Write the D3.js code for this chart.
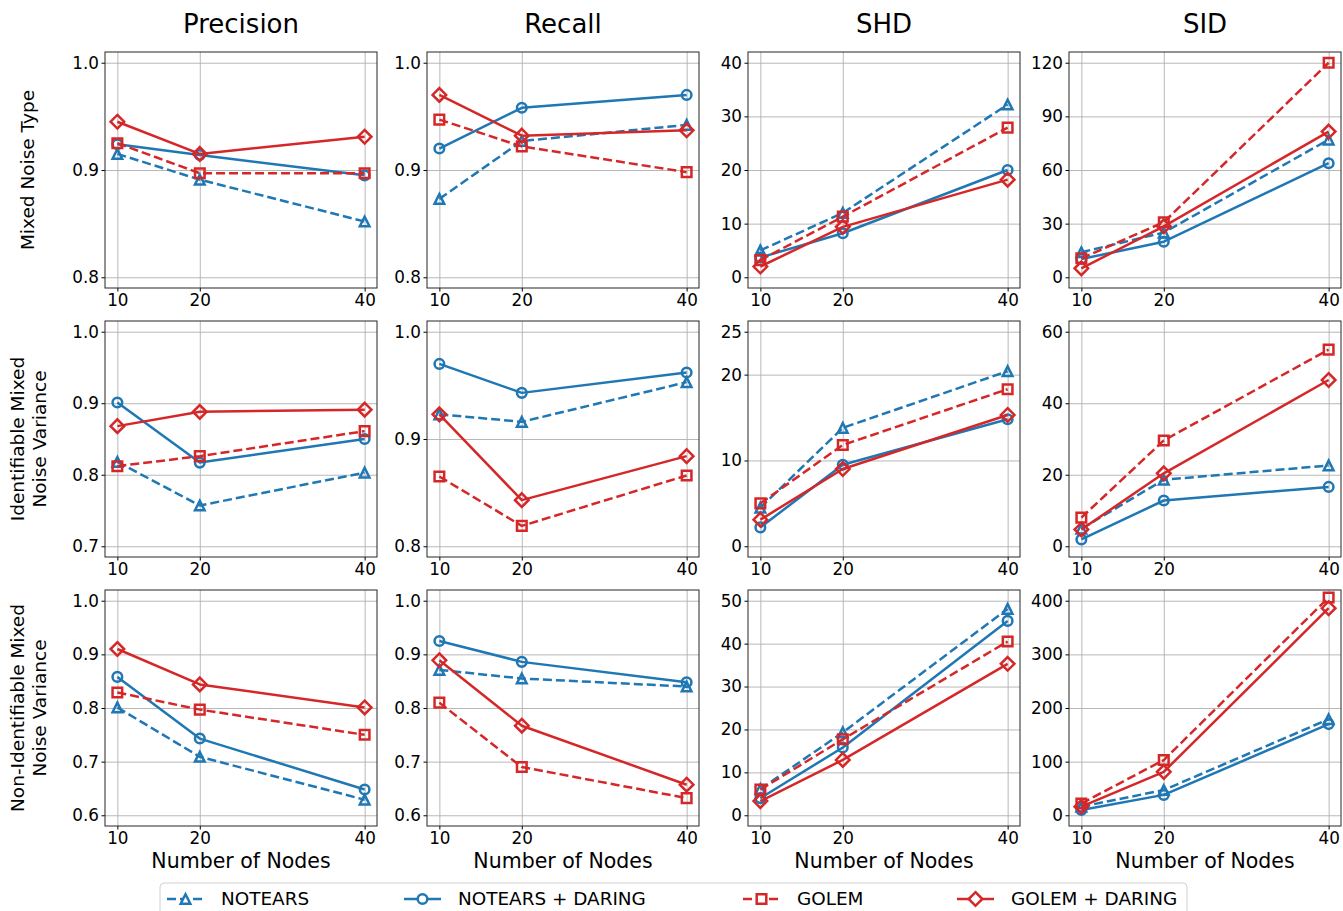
<!DOCTYPE html>
<html><head><meta charset="utf-8">
<script src="https://cdn.jsdelivr.net/npm/d3@7"></script>
<style>
body{margin:0;background:#fff}
svg{display:block}
text{font-family:"DejaVu Sans",sans-serif;fill:#000}
</style>
</head><body>
<svg id="c" width="1343" height="911"></svg>
<script>
// ---------------- DATA ----------------
const nodes = [10, 20, 40];
const metrics = ["Precision", "Recall", "SHD", "SID"];
const settings = [["Mixed Noise Type"], ["Identifiable Mixed", "Noise Variance"], ["Non-Identifiable Mixed", "Noise Variance"]];
const methods = ["NOTEARS", "NOTEARS + DARING", "GOLEM", "GOLEM + DARING"];

// values[row][metric][node]
const notears = [
  [[0.915, 0.891, 0.852], [0.873, 0.927, 0.942], [5.0, 12.0, 32.2], [14, 25, 77]],
  [[0.818, 0.757, 0.803], [0.923, 0.916, 0.953], [4.5, 13.8, 20.4], [4.9, 18.6, 22.6]],
  [[0.801, 0.709, 0.629], [0.871, 0.855, 0.840], [6.1, 19.3, 48.1], [16, 47, 179]]
];
const notearsDaring = [
  [[0.924, 0.914, 0.895], [0.920, 0.958, 0.970], [3.7, 8.2, 20.0], [10.2, 19.9, 63.8]],
  [[0.901, 0.817, 0.850], [0.970, 0.943, 0.962], [2.2, 9.5, 14.8], [1.9, 12.8, 16.6]],
  [[0.858, 0.743, 0.648], [0.925, 0.886, 0.848], [4.0, 15.8, 45.3], [10, 38, 170]]
];
const golem = [
  [[0.925, 0.897, 0.897], [0.947, 0.922, 0.898], [3.2, 11.3, 27.9], [10.6, 30.8, 120]],
  [[0.812, 0.826, 0.861], [0.865, 0.819, 0.866], [5.0, 11.8, 18.3], [8.0, 29.6, 55.0]],
  [[0.829, 0.797, 0.750], [0.810, 0.690, 0.632], [6.0, 17.7, 40.5], [22, 103, 406]]
];
const golemDaring = [
  [[0.945, 0.915, 0.931], [0.970, 0.932, 0.937], [2.0, 9.4, 18.2], [5.0, 28.5, 81.5]],
  [[0.868, 0.888, 0.891], [0.923, 0.843, 0.884], [3.1, 9.0, 15.3], [4.7, 20.4, 46.5]],
  [[0.910, 0.844, 0.801], [0.889, 0.767, 0.657], [3.3, 12.9, 35.3], [16, 81, 386]]
];
const xTicks = [10, 20, 40];
const yTicks = [
  [[0.8, 0.9, 1.0], [0.8, 0.9, 1.0], [0, 10, 20, 30, 40], [0, 30, 60, 90, 120]],
  [[0.7, 0.8, 0.9, 1.0], [0.8, 0.9, 1.0], [0, 10, 20, 25], [0, 20, 40, 60]],
  [[0.6, 0.7, 0.8, 0.9, 1.0], [0.6, 0.7, 0.8, 0.9, 1.0], [0, 10, 20, 30, 40, 50], [0, 100, 200, 300, 400]]
];
const xLabel = "Number of Nodes";

// ---------------- STYLE / LAYOUT ----------------
const series = [notears, notearsDaring, golem, golemDaring];
const BLUE = "#1f77b4", RED = "#d62728";
const styles = [
  {color: BLUE, dash: "9,4", marker: "triangle"},
  {color: BLUE, dash: null, marker: "circle"},
  {color: RED, dash: "9,4", marker: "square"},
  {color: RED, dash: null, marker: "diamond"}
];
const colLeft = [105, 427, 748, 1069], panelW = 272;
const rowTop = [52, 321, 590], panelH = 236;
const legendTextX = [221, 458, 797, 1011];
const MS = 9.6; // marker size

const svg = d3.select("#c");

function markerPath(type) {
  const h = MS / 2;
  if (type === "circle") return `M${h},0A${h},${h} 0 1,1 ${-h},0A${h},${h} 0 1,1 ${h},0Z`;
  if (type === "square") return `M${-h},${-h}H${h}V${h}H${-h}Z`;
  if (type === "diamond") { const d = h * Math.SQRT2; return `M0,${-d}L${d},0L0,${d}L${-d},0Z`; }
  return `M0,${-h}L${h},${h}L${-h},${h}Z`;
}

metrics.forEach((m, c) => {
  svg.append("text").attr("x", colLeft[c] + panelW / 2).attr("y", 33)
    .attr("text-anchor", "middle").style("font-size", "26px").text(m);
});

settings.forEach((lines, r) => {
  const cy = rowTop[r] + panelH / 2;
  const g = svg.append("g").attr("transform", `translate(0,${cy}) rotate(-90)`);
  const n = lines.length;
  lines.forEach((t, i) => {
    const xc = n === 1 ? 28 : (i === 0 ? 18 : 40);
    g.append("text").attr("x", 0).attr("y", xc).attr("dy", "0.35em")
      .attr("text-anchor", "middle").style("font-size", "18.5px").text(t);
  });
});

for (let r = 0; r < 3; r++) {
  for (let c = 0; c < 4; c++) {
    const L = colLeft[c], T = rowTop[r];
    const g = svg.append("g").attr("transform", `translate(${L},${T})`);
    const x = d3.scaleLinear().domain([8.5, 41.5]).range([0, panelW]);
    const yt = yTicks[r][c];
    const lo = d3.min(yt), hi = d3.max(yt), pad = (hi - lo) * 0.05;
    const y = d3.scaleLinear().domain([lo - pad, hi + pad]).range([panelH, 0]);
    const fmt = c < 2 ? d3.format(".1f") : d3.format("d");

    // grid
    g.append("g").attr("class", "grid")
      .call(d3.axisLeft(y).tickValues(yt).tickSize(-panelW).tickFormat(""))
      .call(s => s.select(".domain").remove())
      .call(s => s.selectAll("line").attr("stroke", "#b0b0b0").attr("stroke-width", 0.9));
    g.append("g").attr("class", "grid").attr("transform", `translate(0,${panelH})`)
      .call(d3.axisBottom(x).tickValues(xTicks).tickSize(-panelH).tickFormat(""))
      .call(s => s.select(".domain").remove())
      .call(s => s.selectAll("line").attr("stroke", "#b0b0b0").attr("stroke-width", 0.9));

    // axes
    g.append("g").attr("transform", `translate(0,${panelH})`)
      .call(d3.axisBottom(x).tickValues(xTicks).tickSize(3.5).tickPadding(3).tickFormat(d3.format("d")))
      .call(s => s.select(".domain").remove())
      .call(s => s.selectAll("text").style("font-size", "16.8px").style("font-family", "DejaVu Sans"));
    g.append("g")
      .call(d3.axisLeft(y).tickValues(yt).tickSize(3.5).tickPadding(2.5).tickFormat(fmt))
      .call(s => s.select(".domain").remove())
      .call(s => s.selectAll("text").style("font-size", "16.8px").style("font-family", "DejaVu Sans"));

    // series
    series.forEach((s, k) => {
      const st = styles[k];
      const vals = s[r][c];
      const pts = nodes.map((n, i) => [x(n), y(vals[i])]);
      g.append("path").attr("d", d3.line()(pts)).attr("fill", "none")
        .attr("stroke", st.color).attr("stroke-width", 2.5)
        .attr("stroke-dasharray", st.dash).attr("stroke-linejoin", "round");
      g.selectAll(null).data(pts).enter().append("path")
        .attr("d", markerPath(st.marker))
        .attr("transform", p => `translate(${p[0]},${p[1]})`)
        .attr("fill", "none").attr("stroke", st.color).attr("stroke-width", 2.5);
    });

    // frame
    g.append("rect").attr("width", panelW).attr("height", panelH)
      .attr("fill", "none").attr("stroke", "#262626").attr("stroke-width", 1);

    if (r === 2) {
      g.append("text").attr("x", panelW / 2).attr("y", panelH + 42)
        .attr("text-anchor", "middle").style("font-size", "20.5px").text(xLabel);
    }
  }
}

// legend
const lg = svg.append("g");
lg.append("rect").attr("x", 160).attr("y", 883).attr("width", 1027).attr("height", 45)
  .attr("rx", 4).attr("fill", "#fff").attr("stroke", "#d0d0d0").attr("stroke-width", 1);
methods.forEach((name, k) => {
  const st = styles[k];
  const tx = legendTextX[k], cy = 899;
  const x0 = tx - 54, x1 = tx - 17;
  lg.append("path").attr("d", `M${x0},${cy}H${x1}`).attr("stroke", st.color)
    .attr("stroke-width", 2.5).attr("stroke-dasharray", st.dash).attr("fill", "none");
  lg.append("path").attr("d", markerPath(st.marker))
    .attr("transform", `translate(${(x0 + x1) / 2},${cy})`)
    .attr("fill", "#fff").attr("stroke", st.color).attr("stroke-width", 2.5);
  lg.append("text").attr("x", tx).attr("y", cy).attr("dy", "0.35em")
    .style("font-size", "18.4px").text(name);
});
</script>
</body></html>
